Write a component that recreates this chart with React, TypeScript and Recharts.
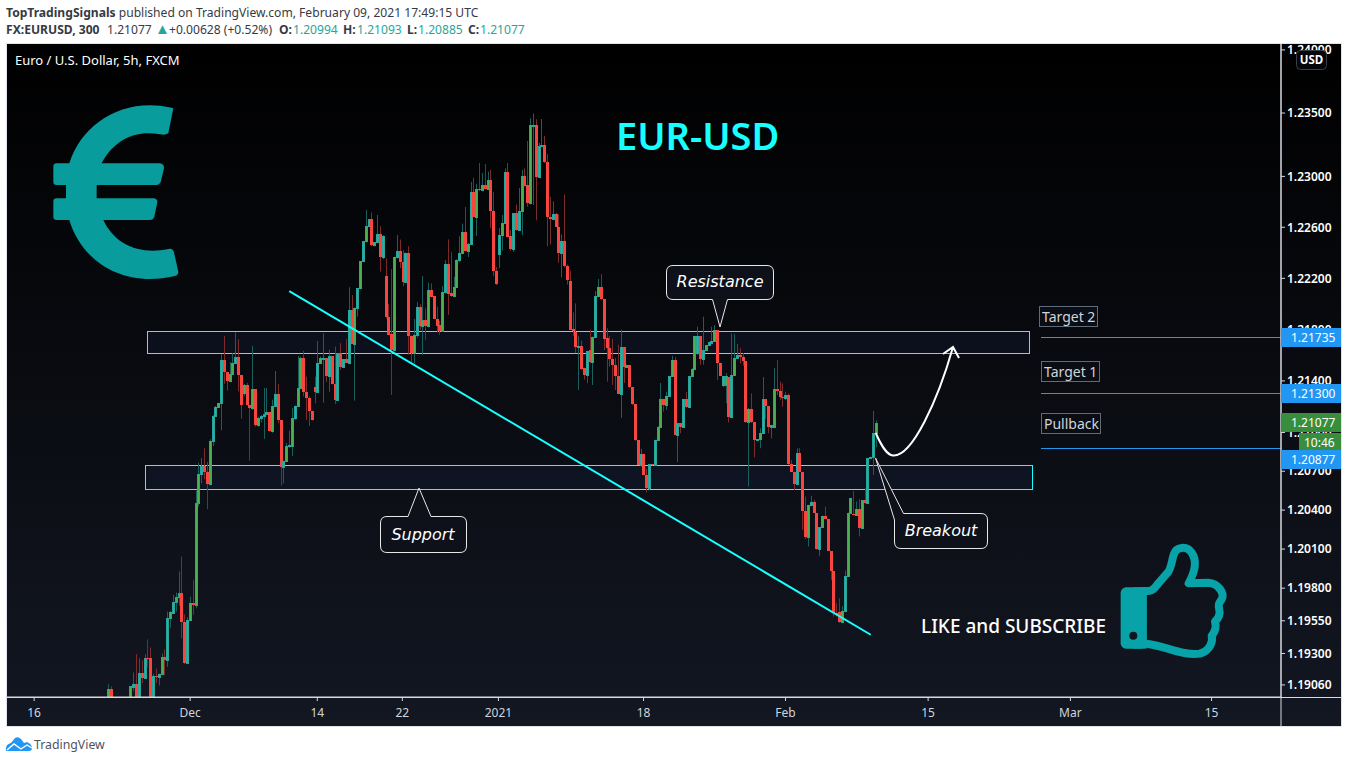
import { ComposedChart, Bar, XAxis, YAxis, ReferenceArea, ReferenceLine } from 'recharts';

// EUR/USD 5h bars. null = bars that sit below the visible pane
const opens = [
  1.1894, 1.19028, null, null, null, null, null, null, 1.1894, 1.19044,
  1.1907, 1.1894, 1.19154, 1.19116, 1.19269, 1.19262, 1.1894, 1.19131, 1.19123, 1.19146,
  1.19274, 1.19248, 1.19569, 1.19607, 1.19692, 1.19735, 1.19766, 1.19543, 1.19228, 1.19556,
  1.19689, 1.19672, 1.20454, 1.20678, 1.20742, 1.20691, 1.20598, 1.20937, 1.2113, 1.212,
  1.21226, 1.21559, 1.21469, 1.21396, 1.21453, 1.21539, 1.21585, 1.21443, 1.21303, 1.21368,
  1.2121, 1.21187, 1.21336, 1.2106, 1.21115, 1.2113, 1.21145, 1.21157, 1.21014, 1.21205,
  1.21298, 1.21097, 1.20729, 1.20783, 1.20893, 1.20899, 1.2111, 1.21205, 1.21345, 1.21578,
  1.21314, 1.21265, 1.21169, 1.21352, 1.21316, 1.21539, 1.21572, 1.21578, 1.21435, 1.21595,
  1.21376, 1.21249, 1.21616, 1.21507, 1.21572, 1.21542, 1.21952, 1.21691, 1.21966, 1.22121,
  1.22335, 1.2249, 1.22608, 1.22665, 1.22461, 1.22482, 1.22547, 1.22369, 1.22217, 1.21895,
  1.21764, 1.21637, 1.22367, 1.22416, 1.22325, 1.22168, 1.22398, 1.21751, 1.21616, 1.21755,
  1.21973, 1.21825, 1.21875, 1.21831, 1.22112, 1.22061, 1.21885, 1.21834, 1.2179, 1.2209,
  1.22311, 1.22082, 1.22063, 1.22134, 1.22341, 1.22401, 1.22561, 1.22416, 1.2247, 1.22878,
  1.22679, 1.22904, 1.22891, 1.22933, 1.22899, 1.22972, 1.22731, 1.22255, 1.22392, 1.22542,
  1.22635, 1.23038, 1.22531, 1.22432, 1.22712, 1.2258, 1.22729, 1.23003, 1.22933, 1.2279,
  1.234, 1.23404, 1.22993, 1.23239, 1.23247, 1.23115, 1.22684, 1.22663, 1.22706, 1.22603,
  1.22396, 1.22494, 1.22297, 1.22182, 1.21801, 1.21783, 1.21661, 1.21669, 1.21498, 1.21443,
  1.21637, 1.21549, 1.21745, 1.22059, 1.2213, 1.22036, 1.21733, 1.21654, 1.21567, 1.21522,
  1.21435, 1.21298, 1.21663, 1.21512, 1.2152, 1.21349, 1.21218, 1.2094, 1.20748, 1.20831,
  1.20672, 1.20569, 1.20753, 1.20746, 1.20943, 1.21045, 1.21262, 1.2121, 1.21286, 1.21435,
  1.21559, 1.20983, 1.21073, 1.21045, 1.21257, 1.21195, 1.21435, 1.21492, 1.21616, 1.21748,
  1.2157, 1.2164, 1.21677, 1.21694, 1.21712, 1.21795, 1.21536, 1.21371, 1.21371, 1.2143,
  1.21117, 1.21443, 1.21578, 1.21601, 1.21585, 1.21554, 1.21078, 1.21182, 1.21081, 1.20942,
  1.20947, 1.20993, 1.21257, 1.21203, 1.21045, 1.21045, 1.21336, 1.21324, 1.21277, 1.21269,
  1.21291, 1.20756, 1.20697, 1.206, 1.2084, 1.20692, 1.20392, 1.20192, 1.20441, 1.20466,
  1.20377, 1.20104, 1.20269, 1.20351, 1.20333, 1.20084, 1.1993, 1.19612, 1.19615, 1.19539,
  1.19628, 1.19896, 1.20381, 1.20372, 1.20366, 1.20407, 1.20266, 1.20477, 1.20451, 1.208,
  1.20813, 1.20994,
];

const highs = [
  1.19066, 1.1905, null, null, null, null, null, null, 1.1905, 1.19155,
  1.19295, 1.19262, 1.19249, 1.19295, 1.19408, 1.19346, 1.19146, 1.19185, 1.19146, 1.193,
  1.19331, 1.1962, 1.19625, 1.19748, 1.19766, 1.19928, 1.20043, 1.19599, 1.19577, 1.19735,
  1.19864, 1.20551, 1.20767, 1.20802, 1.20878, 1.20772, 1.20948, 1.21135, 1.21206, 1.21231,
  1.2161, 1.21751, 1.21469, 1.21547, 1.21616, 1.21778, 1.21725, 1.21443, 1.21376, 1.21384,
  1.2121, 1.21673, 1.21336, 1.21122, 1.21135, 1.21345, 1.21345, 1.21157, 1.21254, 1.21477,
  1.21376, 1.21097, 1.20783, 1.20918, 1.21014, 1.21189, 1.2121, 1.21595, 1.2159, 1.21634,
  1.21433, 1.2128, 1.21169, 1.21433, 1.21711, 1.2159, 1.21771, 1.21578, 1.21642, 1.21595,
  1.21668, 1.21616, 1.21694, 1.21572, 1.21727, 1.22131, 1.22069, 1.21973, 1.22121, 1.22335,
  1.2249, 1.22735, 1.22665, 1.22717, 1.22482, 1.22696, 1.22608, 1.22539, 1.22356, 1.21999,
  1.22272, 1.22369, 1.22539, 1.22504, 1.22421, 1.22402, 1.22451, 1.21751, 1.21882, 1.22012,
  1.21997, 1.22217, 1.21966, 1.22165, 1.2216, 1.22061, 1.21978, 1.21867, 1.22139, 1.22343,
  1.22505, 1.22405, 1.22212, 1.22349, 1.22529, 1.22629, 1.22759, 1.22478, 1.22957, 1.2299,
  1.22941, 1.23106, 1.23027, 1.23098, 1.23037, 1.23051, 1.22878, 1.22289, 1.22595, 1.22696,
  1.23062, 1.23106, 1.22578, 1.22712, 1.22778, 1.22909, 1.2305, 1.23062, 1.2328, 1.23459,
  1.23497, 1.23451, 1.23263, 1.23453, 1.2332, 1.23176, 1.22839, 1.22804, 1.22714, 1.227,
  1.22543, 1.22857, 1.22307, 1.22261, 1.21934, 1.22004, 1.21751, 1.21714, 1.21503, 1.21635,
  1.21796, 1.21745, 1.221, 1.22194, 1.22233, 1.22036, 1.2181, 1.21751, 1.21727, 1.21578,
  1.21681, 1.21797, 1.21663, 1.21527, 1.2152, 1.21349, 1.21218, 1.2094, 1.20873, 1.20831,
  1.20718, 1.20753, 1.20753, 1.20943, 1.2105, 1.21384, 1.21262, 1.21316, 1.2144, 1.21595,
  1.21585, 1.21073, 1.21073, 1.21257, 1.21314, 1.21435, 1.215, 1.21748, 1.21823, 1.21748,
  1.219, 1.21677, 1.21704, 1.21823, 1.21835, 1.21795, 1.21536, 1.21435, 1.21461, 1.2143,
  1.21771, 1.21766, 1.21688, 1.21655, 1.21616, 1.21554, 1.21189, 1.21303, 1.21081, 1.20947,
  1.21032, 1.2143, 1.21257, 1.21203, 1.21059, 1.21499, 1.21562, 1.21394, 1.21381, 1.21316,
  1.21303, 1.20787, 1.20697, 1.20878, 1.20878, 1.20692, 1.20504, 1.20441, 1.2051, 1.20479,
  1.20377, 1.20269, 1.20358, 1.20427, 1.20333, 1.20084, 1.1993, 1.19685, 1.19723, 1.19661,
  1.19936, 1.20381, 1.20492, 1.20548, 1.20466, 1.20484, 1.20477, 1.20569, 1.208, 1.20813,
  1.21167, 1.21093,
];

const lows = [
  1.189, 1.1885, null, null, null, null, null, null, 1.1888, 1.19013,
  1.1888, 1.189, 1.19074, 1.1911, 1.192, 1.1888, 1.1888, 1.19074, 1.19056, 1.19146,
  1.19133, 1.19197, 1.19497, 1.19607, 1.1962, 1.19666, 1.19417, 1.19218, 1.19228, 1.19556,
  1.19595, 1.19646, 1.20428, 1.20608, 1.20639, 1.20407, 1.2059, 1.20895, 1.21122, 1.21195,
  1.21016, 1.21378, 1.21324, 1.21396, 1.21447, 1.21531, 1.21319, 1.21107, 1.2128, 1.21207,
  1.20781, 1.21176, 1.21045, 1.21045, 1.21078, 1.2095, 1.21145, 1.21006, 1.20998, 1.21205,
  1.21073, 1.2059, 1.20605, 1.20775, 1.20878, 1.20817, 1.21097, 1.212, 1.21345, 1.2128,
  1.21097, 1.2105, 1.21092, 1.21226, 1.2131, 1.21533, 1.21231, 1.21391, 1.21316, 1.21371,
  1.2122, 1.21247, 1.21487, 1.21505, 1.21539, 1.21542, 1.21691, 1.21247, 1.219, 1.22113,
  1.22327, 1.22479, 1.226, 1.22453, 1.22448, 1.22474, 1.22252, 1.22349, 1.21887, 1.21758,
  1.21291, 1.21629, 1.22356, 1.2228, 1.22137, 1.22163, 1.21603, 1.21543, 1.21539, 1.21738,
  1.21797, 1.21603, 1.2172, 1.21816, 1.22051, 1.21885, 1.21776, 1.21758, 1.2179, 1.22082,
  1.21914, 1.22056, 1.22056, 1.22126, 1.2233, 1.22396, 1.22416, 1.22367, 1.22465, 1.22679,
  1.22531, 1.22883, 1.22883, 1.22897, 1.22897, 1.22595, 1.22217, 1.22147, 1.2228, 1.22416,
  1.22627, 1.22522, 1.22416, 1.22406, 1.22572, 1.22572, 1.22539, 1.22921, 1.22761, 1.22779,
  1.22774, 1.22655, 1.22988, 1.23231, 1.23106, 1.22451, 1.22465, 1.22655, 1.22603, 1.22322,
  1.22208, 1.22286, 1.22151, 1.21797, 1.21751, 1.21616, 1.21329, 1.21486, 1.21409, 1.21384,
  1.21536, 1.21368, 1.2174, 1.22056, 1.2203, 1.2164, 1.21394, 1.21511, 1.21368, 1.21329,
  1.21298, 1.21112, 1.21384, 1.21512, 1.21344, 1.21213, 1.20934, 1.20748, 1.20735, 1.20672,
  1.20535, 1.20556, 1.20746, 1.20746, 1.20941, 1.21045, 1.21161, 1.21176, 1.21284, 1.21435,
  1.20981, 1.20771, 1.20993, 1.21045, 1.21189, 1.21189, 1.21435, 1.21487, 1.21603, 1.21526,
  1.21526, 1.2164, 1.21677, 1.21694, 1.21704, 1.21407, 1.2144, 1.21353, 1.21226, 1.21078,
  1.21117, 1.21443, 1.21578, 1.21536, 1.21519, 1.21073, 1.20582, 1.21073, 1.20808, 1.20942,
  1.20878, 1.20988, 1.21103, 1.20993, 1.20955, 1.21032, 1.2129, 1.21252, 1.212, 1.21252,
  1.20748, 1.20692, 1.20556, 1.20595, 1.20692, 1.20248, 1.20177, 1.2012, 1.20435, 1.20377,
  1.20094, 1.20048, 1.20269, 1.20333, 1.20084, 1.19864, 1.19582, 1.19582, 1.19533, 1.19533,
  1.19628, 1.19889, 1.20377, 1.20366, 1.20366, 1.20197, 1.20266, 1.20451, 1.20451, 1.208,
  1.20672, 1.20885,
];

const closes = [
  1.19028, 1.189, null, null, null, null, null, null, 1.1905, 1.1907,
  1.1894, 1.19154, 1.19116, 1.19269, 1.19262, 1.1894, 1.19131, 1.19123, 1.19146, 1.19274,
  1.19248, 1.19569, 1.1962, 1.19692, 1.19735, 1.19766, 1.19543, 1.19228, 1.19556, 1.19689,
  1.19672, 1.20454, 1.20678, 1.20742, 1.20691, 1.20598, 1.20937, 1.2113, 1.212, 1.21226,
  1.21559, 1.21469, 1.21396, 1.21453, 1.21539, 1.21585, 1.21443, 1.2121, 1.21368, 1.2121,
  1.21187, 1.21336, 1.2106, 1.21115, 1.2113, 1.21145, 1.21157, 1.21014, 1.21205, 1.21298,
  1.21093, 1.20729, 1.20783, 1.20893, 1.20902, 1.2111, 1.21205, 1.21345, 1.21578, 1.21314,
  1.21265, 1.21169, 1.21097, 1.21316, 1.21539, 1.21578, 1.21578, 1.21435, 1.21595, 1.21373,
  1.21249, 1.21616, 1.21507, 1.21572, 1.21542, 1.21952, 1.21691, 1.21966, 1.22121, 1.22335,
  1.2249, 1.22608, 1.22665, 1.22461, 1.22482, 1.22547, 1.22369, 1.22529, 1.21895, 1.21761,
  1.21637, 1.22367, 1.22416, 1.22325, 1.22168, 1.22398, 1.21746, 1.21616, 1.21758, 1.21973,
  1.21825, 1.21875, 1.21831, 1.22112, 1.22056, 1.21885, 1.21828, 1.2179, 1.2209, 1.22311,
  1.22077, 1.22063, 1.22134, 1.22341, 1.22401, 1.22561, 1.22416, 1.2247, 1.22878, 1.22679,
  1.22902, 1.22891, 1.22933, 1.22899, 1.22972, 1.22726, 1.22255, 1.22158, 1.22542, 1.22635,
  1.23038, 1.22526, 1.22432, 1.22712, 1.2258, 1.22729, 1.23003, 1.22927, 1.2279, 1.23404,
  1.23404, 1.22993, 1.23239, 1.23247, 1.2311, 1.22679, 1.22663, 1.22706, 1.22603, 1.22396,
  1.22494, 1.22294, 1.2219, 1.21797, 1.21786, 1.21661, 1.21669, 1.21493, 1.21443, 1.21635,
  1.21549, 1.21745, 1.22059, 1.2213, 1.22036, 1.2173, 1.21654, 1.21567, 1.21522, 1.21435,
  1.21298, 1.21663, 1.21512, 1.2152, 1.21349, 1.21218, 1.2094, 1.20748, 1.20831, 1.20672,
  1.20569, 1.20753, 1.20746, 1.20943, 1.21045, 1.21262, 1.2121, 1.21286, 1.21435, 1.21559,
  1.20983, 1.21073, 1.21045, 1.21257, 1.21195, 1.21435, 1.21492, 1.21748, 1.21748, 1.2157,
  1.2164, 1.21677, 1.21704, 1.21712, 1.21795, 1.21536, 1.2144, 1.21435, 1.2144, 1.21117,
  1.21443, 1.21578, 1.21601, 1.21585, 1.21554, 1.21078, 1.21182, 1.21081, 1.20942, 1.20947,
  1.20993, 1.21257, 1.21203, 1.21045, 1.21059, 1.21336, 1.21324, 1.21277, 1.21269, 1.21291,
  1.20756, 1.20697, 1.206, 1.2084, 1.20692, 1.20392, 1.20192, 1.20441, 1.20466, 1.20377,
  1.20104, 1.20269, 1.20351, 1.20333, 1.20084, 1.1993, 1.19608, 1.19595, 1.19539, 1.19628,
  1.19896, 1.20381, 1.20492, 1.20366, 1.20407, 1.20266, 1.20477, 1.20451, 1.208, 1.20813,
  1.20993, 1.21077,
];

const priceTicks = [1.1906, 1.193, 1.1955, 1.198, 1.201, 1.204, 1.207, 1.21, 1.214, 1.218, 1.222, 1.226, 1.23, 1.235, 1.24];
const timeTicks = [-26.2, 28.85, 73.7, 103.7, 137.6, 188.8, 238.9, 289.2, 339.4, 389.2];
const timeLabels = ['16', 'Dec', '14', '22', '2021', '18', 'Feb', '15', 'Mar', '15'];

// level lines and zones, in bar index / price
const targetLevels = [1.21735, 1.213, 1.20877];
const resistanceZone = { x1: 13.67, x2: 324.75, y1: 1.21617, y2: 1.21788 };
const supportZone = { x1: 12.96, x2: 325.8, y1: 1.20564, y2: 1.20748 };
const trendLine = [
  { x: 63.8, y: 1.221 },
  { x: 268.96, y: 1.19443 },
];

const candles = opens
  .map((o, i) => ({ i, o, h: highs[i], l: lows[i], c: closes[i] }))
  .filter((d) => d.o !== null);

const UI_FONT = '"Noto Sans", sans-serif';
const NOTE_FONT = '"DejaVu Sans", sans-serif';
const CYAN = '#18ffff';
const TEAL = '#26a69a';
const BLUE = '#2196f3';

function Candle(props: any) {
  const { x, y, width, height, payload } = props;
  const { o, h, l, c } = payload;
  if (!height && height !== 0) return null;
  // the bar spans low..high on a log axis, so find the body the same way
  const span = Math.log(h / l) || 1;
  const yOf = (p: number) => y + (height * Math.log(h / p)) / span;
  const cx = Math.round(x + width / 2 - 0.5) + 0.5;
  const up = c >= o;
  const top = Math.round(yOf(Math.max(o, c)));
  const bottom = Math.round(yOf(Math.min(o, c)));
  return (
    <g>
      <line x1={cx} x2={cx} y1={y} y2={y + height} stroke={up ? '#1a5f5c' : '#7c2b2b'} />
      {up ? (
        <rect x={cx - 1} y={top + 0.5} width={2} height={Math.max(bottom - top, 1)} fill="#4caf50" stroke={TEAL} />
      ) : (
        <rect x={cx - 1.5} y={top} width={3} height={Math.max(bottom - top, 1)} fill="#f8453f" />
      )}
    </g>
  );
}

function PriceTag({ y, h = 19, text, fill = BLUE, x = 1281 }: any) {
  return (
    <g>
      <rect x={x} y={y} width={1341 - x} height={h} fill={fill} />
      <text x={x === 1281 ? 1291 : x + 5} y={y + 14} fill="#fff" fontSize={12} fontFamily={UI_FONT}>
        {text}
      </text>
    </g>
  );
}

function NoteBox({ x, y, w, h, text }: any) {
  return (
    <g>
      <rect x={x + 0.5} y={y + 0.5} width={w} height={h} fill="#0a0d13" stroke="#5d6b7a" />
      <text x={x + 3} y={y + 16} fill="#d1d4dc" fontSize={14} fontFamily={UI_FONT}>
        {text}
      </text>
    </g>
  );
}

// zone box snapped to whole pixels so its 1px border stays bright
function ZoneBox(props: any) {
  const { x, y, width, height } = props;
  return (
    <rect
      x={Math.round(x) + 0.5}
      y={Math.round(y) + 0.5}
      width={Math.round(width)}
      height={Math.round(height)}
      fill="#1a2f5a"
      fillOpacity={0.18}
      stroke={CYAN}
    />
  );
}

function Overlay() {
  const callout = { fill: '#0e1119', stroke: '#e8e8e8', strokeWidth: 1 };
  const calloutText = { fill: '#fff', fontSize: 16, fontStyle: 'italic', fontFamily: NOTE_FONT, textAnchor: 'middle' as const };
  return (
    <svg width={1348} height={763} style={{ position: 'absolute', left: 0, top: 0, pointerEvents: 'none' }}>
      {/* header */}
      <text x={6} y={16.5} fontSize={12.1} fontFamily={UI_FONT} fill="#363a45">
        <tspan fontWeight={700}>TopTradingSignals</tspan> published on TradingView.com, February 09, 2021 17:49:15 UTC
      </text>
      <text y={33.5} fontSize={12.1} fontFamily={UI_FONT} fill="#363a45">
        <tspan x={6} fontWeight={700}>FX:EURUSD, 300</tspan>
        <tspan x={107}>1.21077</tspan>
        <tspan x={155} fill={TEAL} fontSize={15}>▲</tspan>
        <tspan x={169}>+0.00628 (+0.52%)</tspan>
        <tspan x={279} fontWeight={700}>O:</tspan>
        <tspan x={293} fill={TEAL}>1.20994</tspan>
        <tspan x={343} fontWeight={700}>H:</tspan>
        <tspan x={357} fill={TEAL}>1.21093</tspan>
        <tspan x={407} fontWeight={700}>L:</tspan>
        <tspan x={418} fill={TEAL}>1.20885</tspan>
        <tspan x={468} fontWeight={700}>C:</tspan>
        <tspan x={480} fill={TEAL}>1.21077</tspan>
      </text>

      {/* frame pieces the axes do not reach */}
      <line x1={1281} x2={1281} y1={44} y2={726} stroke="#d6d9e0" />
      <line x1={7} x2={1341} y1={697.5} y2={697.5} stroke="#d6d9e0" />

      <text x={15} y={65} fontSize={13} fontFamily={UI_FONT} fill="#fff">Euro / U.S. Dollar, 5h, FXCM</text>
      <text x={616} y={150} fontSize={38} fontWeight={600} fontFamily={UI_FONT} fill={CYAN}>EUR-USD</text>

      {/* euro sign */}
      <g transform="translate(40,95) scale(0.3333)">
        <path
          fill="#089c9c"
          d="M400 40 L385 115 Q375 122 360 118 C290 105 225 130 185 205 L360 205 Q373 207 372 220 L362 262 Q358 270 350 270 L170 270 L170 310 L342 310 Q353 312 352 322 L343 365 Q340 374 330 375 L190 375 C225 450 300 480 385 462 Q398 458 402 472 L415 530 Q415 540 405 543 C250 580 125 500 88 375 L50 375 Q40 375 40 365 L40 320 Q40 310 50 310 L78 310 L78 270 L50 270 Q40 270 40 260 L40 215 Q40 205 50 205 L88 205 C125 85 250 5 395 38 Q408 42 400 40 Z"
        />
      </g>

      {/* thumb */}
      <g transform="translate(900,530) scale(0.3333)">
        <path
          fill="none"
          stroke="#08a3a8"
          strokeWidth={24}
          strokeLinejoin="round"
          d="M725 183 L745 183 C758 184 765 172 775 160 L803 128 C815 115 815 90 822 72 C828 52 860 45 875 68 C892 92 888 120 866 160 L925 158 C955 160 975 190 965 208 C955 222 955 225 958 240 C962 255 950 270 945 275 C950 290 945 305 935 318 C940 335 930 362 900 371 C850 378 800 350 745 342 L725 340"
        />
        <rect x={662} y={172} width={78} height={184} rx={16} fill="#08a3a8" />
        <rect x={700} y={172} width={40} height={184} fill="#08a3a8" />
        <circle cx={700} cy={317} r={12} fill="#111520" />
      </g>
      <text x={921} y={633} fontSize={19} fontWeight={500} fontFamily={UI_FONT} fill="#fff">LIKE and SUBSCRIBE</text>

      {/* callouts */}
      <path {...callout} d="M673 265.5 H767 Q773.5 265.5 773.5 272 V293 Q773.5 299.5 767 299.5 H727.5 L720 327 L712.5 299.5 H673 Q666.5 299.5 666.5 293 V272 Q666.5 265.5 673 265.5 Z" />
      <text {...calloutText} x={720} y={287}>Resistance</text>
      <path {...callout} d="M387 516.5 H408 L419 488 L431 516.5 H460 Q466.5 516.5 466.5 523 V546 Q466.5 552.5 460 552.5 H387 Q380.5 552.5 380.5 546 V523 Q380.5 516.5 387 516.5 Z" />
      <text {...calloutText} x={423} y={540}>Support</text>
      <path {...callout} d="M875.5 458 L903.5 513.5 H981 Q987.5 513.5 987.5 520 V542 Q987.5 548.5 981 548.5 H901 Q894.5 548.5 894.5 542 V520 Z" />
      <text {...calloutText} x={941} y={536}>Breakout</text>

      {/* projected move */}
      <path
        fill="none"
        stroke="#fff"
        strokeWidth={2}
        d="M875.7 433 C882 447 887 455 893 455.5 C912 457 938 400 953 347 M943 354 L953 347 L959 358"
      />

      {/* level notes */}
      <NoteBox x={1039} y={306} w={58} h={20} text="Target 2" />
      <NoteBox x={1041} y={361} w={58} h={20} text="Target 1" />
      <NoteBox x={1041} y={413} w={59} h={20} text="Pullback" />

      <PriceTag y={328} text="1.21735" />
      <PriceTag y={384} text="1.21300" />
      <PriceTag y={413} text="1.21077" fill="#388e3c" />
      <PriceTag y={433} h={17} x={1299} text="10:46" fill="#388e3c" />
      <PriceTag y={450} text="1.20877" />

      <rect x={1296.5} y={50.5} width={30} height={19} rx={4} fill="#05060a" stroke="#3a3e48" />
      <text x={1311.5} y={64} textAnchor="middle" fontSize={11.5} fontWeight={700} fontFamily={UI_FONT} fill="#fff">USD</text>

      {/* footer logo */}
      <path fill={BLUE} d="M6 751 Q5 744 11 743 L15 738 Q18 736 21 739 L24 743 L27 742 Q32 744 32 748 Q32 751 29 751 Z" />
      <path fill="none" stroke="#fff" strokeWidth={1.4} d="M7 750 L14 744 L21 749 L27 745 L32 748" />
      <text x={34} y={749} fontSize={12.3} fontFamily={UI_FONT} fill="#50535e">TradingView</text>
    </svg>
  );
}

export default function App() {
  return (
    <div style={{ position: 'absolute', left: 0, top: 0, width: 1348, height: 763, background: '#fff', overflow: 'hidden' }}>
      <div
        style={{
          position: 'absolute',
          left: 6,
          top: 43,
          width: 1334,
          height: 682,
          border: '1px solid #e0e3eb',
          background: 'linear-gradient(#000000, #131722)',
        }}
      />
      <ComposedChart
        width={1348}
        height={763}
        data={candles}
        margin={{ top: 44, right: 7, bottom: 37, left: 7 }}
        style={{ position: 'absolute', left: 0, top: 0 }}
      >
        <XAxis
          type="number"
          dataKey="i"
          domain={[-35.77, 413.7]}
          allowDataOverflow
          ticks={timeTicks}
          interval={0}
          height={29}
          tickSize={4}
          tickMargin={7}
          tickFormatter={(v: number) => timeLabels[timeTicks.indexOf(v)]}
          tick={{ fill: '#d1d4dc', fontSize: 12, fontFamily: UI_FONT }}
          stroke="#d6d9e0"
        />
        <YAxis
          orientation="right"
          scale="log"
          domain={[1.18968, 1.24047]}
          allowDataOverflow
          ticks={priceTicks}
          interval={0}
          width={60}
          tickSize={4}
          tickFormatter={(v: number) => v.toFixed(5)}
          tick={{ fill: '#fff', fontSize: 12, fontWeight: 600, fontFamily: UI_FONT }}
          stroke="#d6d9e0"
        />
        <Bar dataKey={(d: any) => [d.l, d.h]} barSize={3} shape={<Candle />} isAnimationActive={false} />
        <ReferenceArea {...resistanceZone} shape={<ZoneBox />} />
        <ReferenceArea {...supportZone} shape={<ZoneBox />} />
        <ReferenceLine segment={trendLine} stroke={CYAN} strokeWidth={2} />
        {targetLevels.map((p) => (
          <ReferenceLine
            key={p}
            segment={[
              { x: 329, y: p },
              { x: 413.7, y: p },
            ]}
            stroke={BLUE}
            shapeRendering="crispEdges"
          />
        ))}
      </ComposedChart>
      <Overlay />
    </div>
  );
}
